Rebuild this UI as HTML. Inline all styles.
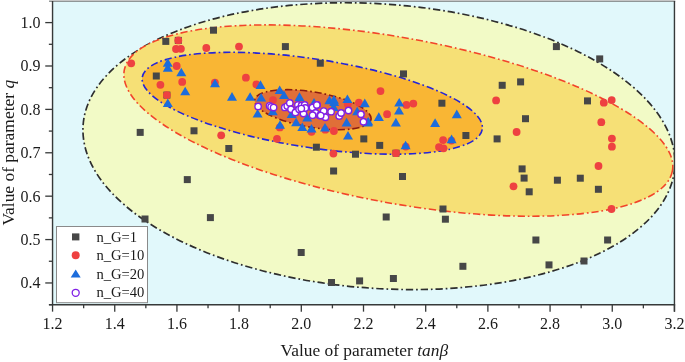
<!DOCTYPE html>
<html><head><meta charset="utf-8"><style>
html,body{margin:0;padding:0;background:#fff;}
svg{display:block;will-change:transform;}
text{font-family:"Liberation Serif",serif;fill:#1a1a1a;}
.tk{font-size:16px;}
.ti{font-size:17.4px;}
.lg{font-size:14.6px;}
</style></head><body>
<svg width="685" height="362" viewBox="0 0 685 362">
<defs><clipPath id="pc"><rect x="52.55" y="0.9033333333333182" width="621.9000000000001" height="303.7533333333334"/></clipPath></defs>
<rect x="52.55" y="0.9033333333333182" width="621.9000000000001" height="303.7533333333334" fill="#e1f8fb"/>
<g clip-path="url(#pc)">
<ellipse cx="378.94" cy="146.17" rx="296.58" ry="142.21" transform="rotate(4.08 378.94 146.17)" fill="#f2fac6" stroke="#2e2e2e" stroke-width="1.7" stroke-dasharray="7.3 2.9 1.7 2.9"/>
<ellipse cx="398.34" cy="120.56" rx="278.65" ry="82.68" transform="rotate(10.41 398.34 120.56)" fill="#f6e076" stroke="#f2442a" stroke-width="1.6" stroke-dasharray="7.3 2.9 1.7 2.9"/>
<ellipse cx="312.25" cy="103.25" rx="171.97" ry="44.3" transform="rotate(8.71 312.25 103.25)" fill="#f9b634" stroke="#2424d8" stroke-width="1.6" stroke-dasharray="7.3 2.9 1.7 2.9"/>
<ellipse cx="312.89" cy="109.68" rx="58.97" ry="17.7" transform="rotate(9.56 312.89 109.68)" fill="#e06f38" stroke="#8a1a10" stroke-width="1.6" stroke-dasharray="7.3 2.9 1.7 2.9"/>
</g>
<rect x="162.30" y="37.90" width="7.0" height="7.0" fill="#474747"/>
<rect x="174.80" y="36.90" width="7.0" height="7.0" fill="#474747"/>
<rect x="152.80" y="72.50" width="7.0" height="7.0" fill="#474747"/>
<rect x="163.40" y="91.60" width="7.0" height="7.0" fill="#474747"/>
<rect x="136.70" y="128.90" width="7.0" height="7.0" fill="#474747"/>
<rect x="190.50" y="127.30" width="7.0" height="7.0" fill="#474747"/>
<rect x="210.00" y="26.70" width="7.0" height="7.0" fill="#474747"/>
<rect x="281.90" y="43.10" width="7.0" height="7.0" fill="#474747"/>
<rect x="316.80" y="59.70" width="7.0" height="7.0" fill="#474747"/>
<rect x="400.00" y="70.40" width="7.0" height="7.0" fill="#474747"/>
<rect x="438.40" y="99.70" width="7.0" height="7.0" fill="#474747"/>
<rect x="462.40" y="132.00" width="7.0" height="7.0" fill="#474747"/>
<rect x="498.70" y="81.80" width="7.0" height="7.0" fill="#474747"/>
<rect x="517.10" y="78.40" width="7.0" height="7.0" fill="#474747"/>
<rect x="584.00" y="97.40" width="7.0" height="7.0" fill="#474747"/>
<rect x="522.00" y="115.20" width="7.0" height="7.0" fill="#474747"/>
<rect x="552.90" y="43.10" width="7.0" height="7.0" fill="#474747"/>
<rect x="596.20" y="55.40" width="7.0" height="7.0" fill="#474747"/>
<rect x="576.80" y="174.70" width="7.0" height="7.0" fill="#474747"/>
<rect x="594.90" y="185.80" width="7.0" height="7.0" fill="#474747"/>
<rect x="493.60" y="135.40" width="7.0" height="7.0" fill="#474747"/>
<rect x="518.60" y="165.40" width="7.0" height="7.0" fill="#474747"/>
<rect x="520.60" y="174.60" width="7.0" height="7.0" fill="#474747"/>
<rect x="525.70" y="188.30" width="7.0" height="7.0" fill="#474747"/>
<rect x="553.90" y="176.70" width="7.0" height="7.0" fill="#474747"/>
<rect x="183.80" y="176.10" width="7.0" height="7.0" fill="#474747"/>
<rect x="225.30" y="145.00" width="7.0" height="7.0" fill="#474747"/>
<rect x="312.90" y="143.70" width="7.0" height="7.0" fill="#474747"/>
<rect x="330.10" y="167.50" width="7.0" height="7.0" fill="#474747"/>
<rect x="360.30" y="135.40" width="7.0" height="7.0" fill="#474747"/>
<rect x="376.20" y="141.90" width="7.0" height="7.0" fill="#474747"/>
<rect x="352.00" y="150.70" width="7.0" height="7.0" fill="#474747"/>
<rect x="399.00" y="173.00" width="7.0" height="7.0" fill="#474747"/>
<rect x="141.50" y="215.50" width="7.0" height="7.0" fill="#474747"/>
<rect x="206.90" y="214.10" width="7.0" height="7.0" fill="#474747"/>
<rect x="297.70" y="249.00" width="7.0" height="7.0" fill="#474747"/>
<rect x="382.70" y="213.50" width="7.0" height="7.0" fill="#474747"/>
<rect x="439.50" y="205.50" width="7.0" height="7.0" fill="#474747"/>
<rect x="441.90" y="215.70" width="7.0" height="7.0" fill="#474747"/>
<rect x="459.40" y="262.80" width="7.0" height="7.0" fill="#474747"/>
<rect x="328.00" y="279.00" width="7.0" height="7.0" fill="#474747"/>
<rect x="356.10" y="277.40" width="7.0" height="7.0" fill="#474747"/>
<rect x="389.90" y="275.00" width="7.0" height="7.0" fill="#474747"/>
<rect x="532.40" y="236.50" width="7.0" height="7.0" fill="#474747"/>
<rect x="545.50" y="261.40" width="7.0" height="7.0" fill="#474747"/>
<rect x="580.50" y="257.50" width="7.0" height="7.0" fill="#474747"/>
<rect x="604.10" y="236.50" width="7.0" height="7.0" fill="#474747"/>
<rect x="392.50" y="149.70" width="7.0" height="7.0" fill="#474747"/>
<circle cx="178.3" cy="40.4" r="3.9" fill="#ee4141"/>
<circle cx="176.0" cy="49" r="3.9" fill="#ee4141"/>
<circle cx="180.9" cy="48.8" r="3.9" fill="#ee4141"/>
<circle cx="131.2" cy="63.3" r="3.9" fill="#ee4141"/>
<circle cx="176.7" cy="66.0" r="3.9" fill="#ee4141"/>
<circle cx="160.4" cy="84.8" r="3.9" fill="#ee4141"/>
<circle cx="182.2" cy="81.9" r="3.9" fill="#ee4141"/>
<circle cx="166.9" cy="95.1" r="3.9" fill="#ee4141"/>
<circle cx="206.3" cy="48.0" r="3.9" fill="#ee4141"/>
<circle cx="239.0" cy="46.6" r="3.9" fill="#ee4141"/>
<circle cx="245.9" cy="77.7" r="3.9" fill="#ee4141"/>
<circle cx="214.9" cy="82.6" r="3.9" fill="#ee4141"/>
<circle cx="256.4" cy="84.4" r="3.9" fill="#ee4141"/>
<circle cx="273" cy="100.1" r="3.9" fill="#ee4141"/>
<circle cx="279.8" cy="127.4" r="3.9" fill="#ee4141"/>
<circle cx="221.2" cy="135.3" r="3.9" fill="#ee4141"/>
<circle cx="277" cy="138.8" r="3.9" fill="#ee4141"/>
<circle cx="311.5" cy="131.8" r="3.9" fill="#ee4141"/>
<circle cx="325.3" cy="129.7" r="3.9" fill="#ee4141"/>
<circle cx="333.9" cy="131" r="3.9" fill="#ee4141"/>
<circle cx="333.4" cy="153.6" r="3.9" fill="#ee4141"/>
<circle cx="347.8" cy="104.3" r="3.9" fill="#ee4141"/>
<circle cx="358.9" cy="102.6" r="3.9" fill="#ee4141"/>
<circle cx="380.5" cy="91.1" r="3.9" fill="#ee4141"/>
<circle cx="406.4" cy="104.9" r="3.9" fill="#ee4141"/>
<circle cx="413.3" cy="103.6" r="3.9" fill="#ee4141"/>
<circle cx="387.1" cy="114.2" r="3.9" fill="#ee4141"/>
<circle cx="396" cy="153.2" r="3.9" fill="#ee4141"/>
<circle cx="443.1" cy="140.1" r="3.9" fill="#ee4141"/>
<circle cx="439" cy="147.1" r="3.9" fill="#ee4141"/>
<circle cx="443.5" cy="148.3" r="3.9" fill="#ee4141"/>
<circle cx="496.1" cy="100.4" r="3.9" fill="#ee4141"/>
<circle cx="516.6" cy="132" r="3.9" fill="#ee4141"/>
<circle cx="513.5" cy="186.3" r="3.9" fill="#ee4141"/>
<circle cx="603.8" cy="102.7" r="3.9" fill="#ee4141"/>
<circle cx="611.7" cy="100.1" r="3.9" fill="#ee4141"/>
<circle cx="601.3" cy="122.2" r="3.9" fill="#ee4141"/>
<circle cx="611.9" cy="138.6" r="3.9" fill="#ee4141"/>
<circle cx="611.9" cy="146.7" r="3.9" fill="#ee4141"/>
<circle cx="598.5" cy="166" r="3.9" fill="#ee4141"/>
<circle cx="611.5" cy="209" r="3.9" fill="#ee4141"/>
<circle cx="451.4" cy="140.6" r="3.9" fill="#ee4141"/>
<circle cx="405.8" cy="146.6" r="3.9" fill="#ee4141"/>
<path d="M167.80 58.20L172.80 66.80L162.80 66.80Z" fill="#1c6cdc"/>
<path d="M167.80 63.10L172.80 71.70L162.80 71.70Z" fill="#1c6cdc"/>
<path d="M181.30 67.70L186.30 76.30L176.30 76.30Z" fill="#1c6cdc"/>
<path d="M185.20 86.70L190.20 95.30L180.20 95.30Z" fill="#1c6cdc"/>
<path d="M167.80 98.40L172.80 107.00L162.80 107.00Z" fill="#1c6cdc"/>
<path d="M215.00 78.70L220.00 87.30L210.00 87.30Z" fill="#1c6cdc"/>
<path d="M260.50 80.30L265.50 88.90L255.50 88.90Z" fill="#1c6cdc"/>
<path d="M232.00 92.10L237.00 100.70L227.00 100.70Z" fill="#1c6cdc"/>
<path d="M250.10 92.20L255.10 100.80L245.10 100.80Z" fill="#1c6cdc"/>
<path d="M261.10 93.00L266.10 101.60L256.10 101.60Z" fill="#1c6cdc"/>
<path d="M279.70 85.50L284.70 94.10L274.70 94.10Z" fill="#1c6cdc"/>
<path d="M284.00 90.50L289.00 99.10L279.00 99.10Z" fill="#1c6cdc"/>
<path d="M299.50 92.30L304.50 100.90L294.50 100.90Z" fill="#1c6cdc"/>
<path d="M329.40 95.60L334.40 104.20L324.40 104.20Z" fill="#1c6cdc"/>
<path d="M272.80 106.60L277.80 115.20L267.80 115.20Z" fill="#1c6cdc"/>
<path d="M257.60 109.00L262.60 117.60L252.60 117.60Z" fill="#1c6cdc"/>
<path d="M280.00 120.20L285.00 128.80L275.00 128.80Z" fill="#1c6cdc"/>
<path d="M296.10 117.70L301.10 126.30L291.10 126.30Z" fill="#1c6cdc"/>
<path d="M302.30 122.50L307.30 131.10L297.30 131.10Z" fill="#1c6cdc"/>
<path d="M311.50 124.00L316.50 132.60L306.50 132.60Z" fill="#1c6cdc"/>
<path d="M325.00 123.00L330.00 131.60L320.00 131.60Z" fill="#1c6cdc"/>
<path d="M314.00 98.10L319.00 106.70L309.00 106.70Z" fill="#1c6cdc"/>
<path d="M291.70 109.30L296.70 117.90L286.70 117.90Z" fill="#1c6cdc"/>
<path d="M307.20 113.00L312.20 121.60L302.20 121.60Z" fill="#1c6cdc"/>
<path d="M334.20 97.50L339.20 106.10L329.20 106.10Z" fill="#1c6cdc"/>
<path d="M347.40 94.40L352.40 103.00L342.40 103.00Z" fill="#1c6cdc"/>
<path d="M364.80 98.60L369.80 107.20L359.80 107.20Z" fill="#1c6cdc"/>
<path d="M357.20 106.70L362.20 115.30L352.20 115.30Z" fill="#1c6cdc"/>
<path d="M378.80 112.30L383.80 120.90L373.80 120.90Z" fill="#1c6cdc"/>
<path d="M333.60 102.40L338.60 111.00L328.60 111.00Z" fill="#1c6cdc"/>
<path d="M399.20 98.00L404.20 106.60L394.20 106.60Z" fill="#1c6cdc"/>
<path d="M399.00 105.90L404.00 114.50L394.00 114.50Z" fill="#1c6cdc"/>
<path d="M395.90 117.80L400.90 126.40L390.90 126.40Z" fill="#1c6cdc"/>
<path d="M456.80 109.60L461.80 118.20L451.80 118.20Z" fill="#1c6cdc"/>
<path d="M435.10 118.30L440.10 126.90L430.10 126.90Z" fill="#1c6cdc"/>
<path d="M348.00 130.90L353.00 139.50L343.00 139.50Z" fill="#1c6cdc"/>
<path d="M405.60 140.70L410.60 149.30L400.60 149.30Z" fill="#1c6cdc"/>
<path d="M451.60 134.60L456.60 143.20L446.60 143.20Z" fill="#1c6cdc"/>
<path d="M368.30 117.00L373.30 125.60L363.30 125.60Z" fill="#1c6cdc"/>
<path d="M346.60 117.80L351.60 126.40L341.60 126.40Z" fill="#1c6cdc"/>
<path d="M367.60 117.80L372.60 126.40L362.60 126.40Z" fill="#1c6cdc"/>
<path d="M333.90 95.10L338.90 103.70L328.90 103.70Z" fill="#1c6cdc"/>
<circle cx="258.1" cy="106.4" r="3.2" fill="#fff" stroke="#8020e6" stroke-width="1.4"/>
<circle cx="269.6" cy="105.8" r="3.2" fill="#fff" stroke="#8020e6" stroke-width="1.4"/>
<circle cx="271.1" cy="106.8" r="3.2" fill="#fff" stroke="#8020e6" stroke-width="1.4"/>
<circle cx="273.6" cy="107.6" r="3.2" fill="#fff" stroke="#8020e6" stroke-width="1.4"/>
<circle cx="284.8" cy="107.4" r="3.2" fill="#fff" stroke="#8020e6" stroke-width="1.4"/>
<circle cx="287.3" cy="106.1" r="3.2" fill="#fff" stroke="#8020e6" stroke-width="1.4"/>
<circle cx="289.8" cy="103" r="3.2" fill="#fff" stroke="#8020e6" stroke-width="1.4"/>
<circle cx="291" cy="109.2" r="3.2" fill="#fff" stroke="#8020e6" stroke-width="1.4"/>
<circle cx="295.4" cy="112.4" r="3.2" fill="#fff" stroke="#8020e6" stroke-width="1.4"/>
<circle cx="297.9" cy="104.9" r="3.2" fill="#fff" stroke="#8020e6" stroke-width="1.4"/>
<circle cx="299.1" cy="109.2" r="3.2" fill="#fff" stroke="#8020e6" stroke-width="1.4"/>
<circle cx="301.6" cy="105.5" r="3.2" fill="#fff" stroke="#8020e6" stroke-width="1.4"/>
<circle cx="304.7" cy="104.9" r="3.2" fill="#fff" stroke="#8020e6" stroke-width="1.4"/>
<circle cx="303.5" cy="113.6" r="3.2" fill="#fff" stroke="#8020e6" stroke-width="1.4"/>
<circle cx="305.3" cy="108" r="3.2" fill="#fff" stroke="#8020e6" stroke-width="1.4"/>
<circle cx="312.2" cy="107.4" r="3.2" fill="#fff" stroke="#8020e6" stroke-width="1.4"/>
<circle cx="314.7" cy="112.4" r="3.2" fill="#fff" stroke="#8020e6" stroke-width="1.4"/>
<circle cx="317.1" cy="104.9" r="3.2" fill="#fff" stroke="#8020e6" stroke-width="1.4"/>
<circle cx="319" cy="114.8" r="3.2" fill="#fff" stroke="#8020e6" stroke-width="1.4"/>
<circle cx="312.5" cy="107.4" r="3.2" fill="#fff" stroke="#8020e6" stroke-width="1.4"/>
<circle cx="316.8" cy="104.9" r="3.2" fill="#fff" stroke="#8020e6" stroke-width="1.4"/>
<circle cx="315.6" cy="112.9" r="3.2" fill="#fff" stroke="#8020e6" stroke-width="1.4"/>
<circle cx="320" cy="115.4" r="3.2" fill="#fff" stroke="#8020e6" stroke-width="1.4"/>
<circle cx="323.7" cy="111.1" r="3.2" fill="#fff" stroke="#8020e6" stroke-width="1.4"/>
<circle cx="325.5" cy="117.3" r="3.2" fill="#fff" stroke="#8020e6" stroke-width="1.4"/>
<circle cx="331.1" cy="111.7" r="3.2" fill="#fff" stroke="#8020e6" stroke-width="1.4"/>
<circle cx="339.2" cy="116.1" r="3.2" fill="#fff" stroke="#8020e6" stroke-width="1.4"/>
<circle cx="341.1" cy="113" r="3.2" fill="#fff" stroke="#8020e6" stroke-width="1.4"/>
<circle cx="348.5" cy="110.5" r="3.2" fill="#fff" stroke="#8020e6" stroke-width="1.4"/>
<circle cx="361" cy="114.2" r="3.2" fill="#fff" stroke="#8020e6" stroke-width="1.4"/>
<circle cx="363.5" cy="121.7" r="3.2" fill="#fff" stroke="#8020e6" stroke-width="1.4"/>
<circle cx="312.6" cy="115.2" r="3.2" fill="#fff" stroke="#8020e6" stroke-width="1.4"/>
<circle cx="301.3" cy="108.6" r="3.2" fill="#fff" stroke="#8020e6" stroke-width="1.4"/>
<circle cx="320.7" cy="115.6" r="3.2" fill="#fff" stroke="#8020e6" stroke-width="1.4"/>
<rect x="56.5" y="226.5" width="91.0" height="76.19999999999999" fill="#fff" stroke="#8a8a8a" stroke-width="1"/>
<rect x="72.0" y="233.4" width="7.4" height="7" fill="#474747"/>
<circle cx="75.7" cy="255.2" r="4" fill="#ee4141"/>
<path d="M75.7 269.6L80.7 277.40000000000003L70.7 277.40000000000003Z" fill="#1c6cdc"/>
<circle cx="75.7" cy="292.8" r="3.5" fill="#fff" stroke="#8020e6" stroke-width="1.3"/>
<text x="96.4" y="242.0" class="lg">n_G=1</text>
<text x="96.4" y="260.4" class="lg">n_G=10</text>
<text x="96.4" y="278.9" class="lg">n_G=20</text>
<text x="96.4" y="297.2" class="lg">n_G=40</text>
<rect x="49.05" y="0" width="626.2" height="1" fill="#c6c6c6"/>
<rect x="49.05" y="1" width="626.2" height="1" fill="#8f9696"/>
<line x1="52.55" y1="1" x2="52.55" y2="304.6566666666667" stroke="#363939" stroke-width="1.4"/>
<line x1="674.45" y1="1" x2="674.45" y2="311.6566666666667" stroke="#363939" stroke-width="1.4"/>
<line x1="49.05" y1="304.75" x2="675.1500000000001" y2="304.75" stroke="#363939" stroke-width="1.7"/>
<line x1="52.55" y1="304.6566666666667" x2="52.55" y2="311.6566666666667" stroke="#363939" stroke-width="1.3"/>
<text x="52.55" y="328.6" text-anchor="middle" class="tk">1.2</text>
<line x1="83.65" y1="304.6566666666667" x2="83.65" y2="308.3566666666667" stroke="#363939" stroke-width="1.3"/>
<line x1="114.74" y1="304.6566666666667" x2="114.74" y2="311.6566666666667" stroke="#363939" stroke-width="1.3"/>
<text x="114.74" y="328.6" text-anchor="middle" class="tk">1.4</text>
<line x1="145.84" y1="304.6566666666667" x2="145.84" y2="308.3566666666667" stroke="#363939" stroke-width="1.3"/>
<line x1="176.93" y1="304.6566666666667" x2="176.93" y2="311.6566666666667" stroke="#363939" stroke-width="1.3"/>
<text x="176.93" y="328.6" text-anchor="middle" class="tk">1.6</text>
<line x1="208.03" y1="304.6566666666667" x2="208.03" y2="308.3566666666667" stroke="#363939" stroke-width="1.3"/>
<line x1="239.12" y1="304.6566666666667" x2="239.12" y2="311.6566666666667" stroke="#363939" stroke-width="1.3"/>
<text x="239.12" y="328.6" text-anchor="middle" class="tk">1.8</text>
<line x1="270.22" y1="304.6566666666667" x2="270.22" y2="308.3566666666667" stroke="#363939" stroke-width="1.3"/>
<line x1="301.31" y1="304.6566666666667" x2="301.31" y2="311.6566666666667" stroke="#363939" stroke-width="1.3"/>
<text x="301.31" y="328.6" text-anchor="middle" class="tk">2.0</text>
<line x1="332.41" y1="304.6566666666667" x2="332.41" y2="308.3566666666667" stroke="#363939" stroke-width="1.3"/>
<line x1="363.50" y1="304.6566666666667" x2="363.50" y2="311.6566666666667" stroke="#363939" stroke-width="1.3"/>
<text x="363.50" y="328.6" text-anchor="middle" class="tk">2.2</text>
<line x1="394.60" y1="304.6566666666667" x2="394.60" y2="308.3566666666667" stroke="#363939" stroke-width="1.3"/>
<line x1="425.69" y1="304.6566666666667" x2="425.69" y2="311.6566666666667" stroke="#363939" stroke-width="1.3"/>
<text x="425.69" y="328.6" text-anchor="middle" class="tk">2.4</text>
<line x1="456.79" y1="304.6566666666667" x2="456.79" y2="308.3566666666667" stroke="#363939" stroke-width="1.3"/>
<line x1="487.88" y1="304.6566666666667" x2="487.88" y2="311.6566666666667" stroke="#363939" stroke-width="1.3"/>
<text x="487.88" y="328.6" text-anchor="middle" class="tk">2.6</text>
<line x1="518.98" y1="304.6566666666667" x2="518.98" y2="308.3566666666667" stroke="#363939" stroke-width="1.3"/>
<line x1="550.07" y1="304.6566666666667" x2="550.07" y2="311.6566666666667" stroke="#363939" stroke-width="1.3"/>
<text x="550.07" y="328.6" text-anchor="middle" class="tk">2.8</text>
<line x1="581.17" y1="304.6566666666667" x2="581.17" y2="308.3566666666667" stroke="#363939" stroke-width="1.3"/>
<line x1="612.26" y1="304.6566666666667" x2="612.26" y2="311.6566666666667" stroke="#363939" stroke-width="1.3"/>
<text x="612.26" y="328.6" text-anchor="middle" class="tk">3.0</text>
<line x1="643.36" y1="304.6566666666667" x2="643.36" y2="308.3566666666667" stroke="#363939" stroke-width="1.3"/>
<line x1="674.45" y1="304.6566666666667" x2="674.45" y2="311.6566666666667" stroke="#363939" stroke-width="1.3"/>
<text x="674.45" y="328.6" text-anchor="middle" class="tk">3.2</text>
<line x1="48.85" y1="304.66" x2="52.55" y2="304.66" stroke="#363939" stroke-width="1.3"/>
<line x1="45.25" y1="282.96" x2="52.55" y2="282.96" stroke="#363939" stroke-width="1.3"/>
<text x="40.6" y="288.36" text-anchor="end" class="tk">0.4</text>
<line x1="48.85" y1="261.26" x2="52.55" y2="261.26" stroke="#363939" stroke-width="1.3"/>
<line x1="45.25" y1="239.57" x2="52.55" y2="239.57" stroke="#363939" stroke-width="1.3"/>
<text x="40.6" y="244.97" text-anchor="end" class="tk">0.5</text>
<line x1="48.85" y1="217.87" x2="52.55" y2="217.87" stroke="#363939" stroke-width="1.3"/>
<line x1="45.25" y1="196.17" x2="52.55" y2="196.17" stroke="#363939" stroke-width="1.3"/>
<text x="40.6" y="201.57" text-anchor="end" class="tk">0.6</text>
<line x1="48.85" y1="174.48" x2="52.55" y2="174.48" stroke="#363939" stroke-width="1.3"/>
<line x1="45.25" y1="152.78" x2="52.55" y2="152.78" stroke="#363939" stroke-width="1.3"/>
<text x="40.6" y="158.18" text-anchor="end" class="tk">0.7</text>
<line x1="48.85" y1="131.08" x2="52.55" y2="131.08" stroke="#363939" stroke-width="1.3"/>
<line x1="45.25" y1="109.39" x2="52.55" y2="109.39" stroke="#363939" stroke-width="1.3"/>
<text x="40.6" y="114.79" text-anchor="end" class="tk">0.8</text>
<line x1="48.85" y1="87.69" x2="52.55" y2="87.69" stroke="#363939" stroke-width="1.3"/>
<line x1="45.25" y1="65.99" x2="52.55" y2="65.99" stroke="#363939" stroke-width="1.3"/>
<text x="40.6" y="71.39" text-anchor="end" class="tk">0.9</text>
<line x1="48.85" y1="44.30" x2="52.55" y2="44.30" stroke="#363939" stroke-width="1.3"/>
<line x1="45.25" y1="22.60" x2="52.55" y2="22.60" stroke="#363939" stroke-width="1.3"/>
<text x="40.6" y="28.00" text-anchor="end" class="tk">1.0</text>
<text x="280.6" y="356" class="ti">Value of parameter <tspan font-style="italic">tanβ</tspan></text>
<text transform="translate(13.7 225.6) rotate(-90)" class="ti" style="font-size:17.45px">Value of parameter <tspan font-style="italic">q</tspan></text>
</svg>
</body></html>
